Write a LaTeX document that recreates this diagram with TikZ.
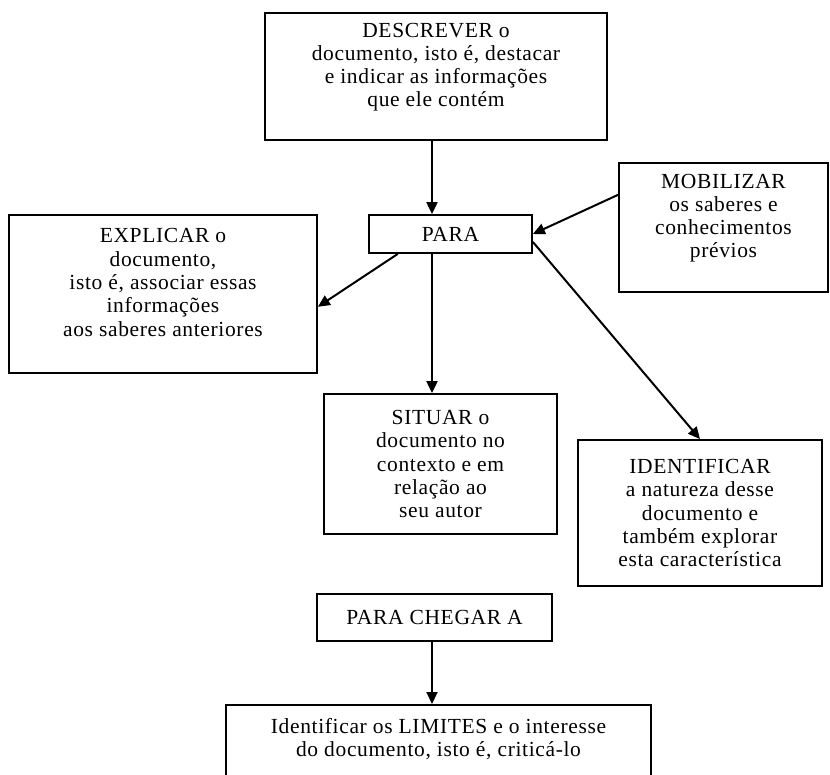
\documentclass[tikz,border=0pt]{standalone}
\usepackage{fontspec}
\setmainfont{Liberation Serif}[LetterSpace=3]
\usetikzlibrary{positioning,calc,arrows.meta}

\begin{document}
\begin{tikzpicture}%
  [x=1pt,y=-1pt,
   font=\fontsize{21.5}{23.3}\selectfont,
   box/.style=
    {draw,line width=1.8pt,align=center,inner sep=0pt},
   cutbox/.style=
    {draw,line width=1.8pt,align=center,inner ysep=13pt,anchor=north,text depth=80pt},
   flow/.style={line width=2pt,-{Triangle[length=12pt,width=11pt]}}
  ]
  \useasboundingbox (0,0) rectangle (830,774);
  \clip (0,0) rectangle (830,774);
  \coordinate (axis) at (432,0);
  \node[box,minimum width=342pt,minimum height=127pt] (descr) at (436,76.5)
    {DESCREVER o\\documento, isto é, destacar\\e indicar as informações\\que ele contém\\\mbox{}};
  \node[box,minimum width=163pt,minimum height=38pt] (para) at (450.5,234) {PARA};
  \node[box,minimum width=209pt,minimum height=129pt] (mobil) at (723.5,227.5)
    {MOBILIZAR\\os saberes e\\conhecimentos\\prévios\\\mbox{}};
  \node[box,minimum width=308pt,minimum height=158pt] (expl) at (163,294)
    {EXPLICAR o\\documento,\\isto é, associar essas\\informações\\aos saberes anteriores\\\mbox{}};
  \node[box,minimum width=233pt,minimum height=140pt] (situar) at (440.5,464)
    {SITUAR o\\documento no\\contexto e em\\relação ao\\seu autor};
  \node[box,minimum width=244pt,minimum height=146pt] (ident) at (700,513)
    {IDENTIFICAR\\a natureza desse\\documento e\\também explorar\\esta característica};
  \node[box,minimum width=235pt,minimum height=47pt] (chegar) at (434.5,617.5) {PARA CHEGAR A};
  \node[cutbox,minimum width=425pt] (limites) at (438.5,704)
    {Identificar os LIMITES e o interesse\\do documento, isto é, criticá-lo};
  % ligações
  \draw[flow] (descr.south -| axis) -- (para.north -| axis);
  \draw[flow] ($(mobil.north west)!0.25!(mobil.south west)$) -- (para.east);
  \draw[flow] ($(para.south west)!0.18!(para.south east)$) -- ($(expl.north east)!0.58!(expl.south east)$);
  \draw[flow] (para.south -| axis) -- (situar.north -| axis);
  \draw[flow] ($(para.north east)!0.7!(para.south east)$) -- (ident.north);
  \draw[flow] (chegar.south -| axis) -- (limites.north -| axis);
\end{tikzpicture}
\end{document}
